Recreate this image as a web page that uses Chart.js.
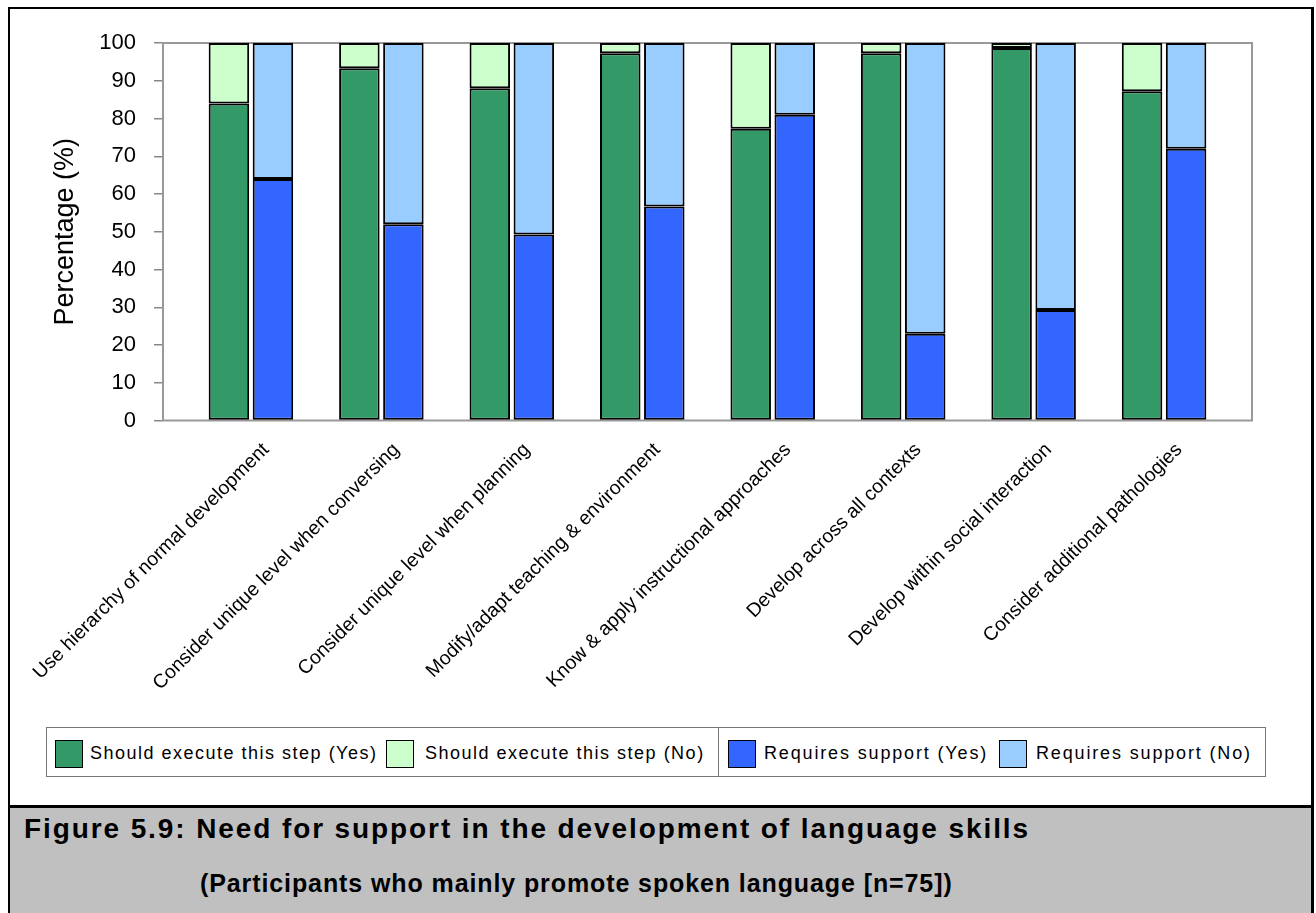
<!DOCTYPE html>
<html>
<head>
<meta charset="utf-8">
<script src="https://cdn.jsdelivr.net/npm/chart.js@4/dist/chart.umd.min.js"></script>
<style>
  html, body { margin: 0; padding: 0; background: #fff; }
  body { width: 1316px; height: 913px; position: relative; overflow: hidden; font-family: "Liberation Sans", Arial, sans-serif; }
  #frame { position: absolute; left: 8px; top: 7px; width: 1306px; height: 800px; box-sizing: border-box;
           border: 2px solid #000; border-right-width: 3px; }
  #chartWrap { position: absolute; left: 10px; top: 10px; width: 1300px; height: 705px; }
  #legend { position: absolute; left: 46px; top: 727px; width: 1220px; height: 50px; box-sizing: border-box;
            border: 1px solid #777; background: #fff; }
  #legend .sep { position: absolute; top: 0; bottom: 0; width: 1px; background: #777; }
  #legend .sw { position: absolute; top: 12px; width: 28px; height: 28px; box-sizing: border-box; border: 1.5px solid #000; }
  #legend .tx { position: absolute; top: 13px; font-size: 18px; line-height: 24px; letter-spacing: 1.5px; color: #000; white-space: nowrap; }
  #caption { position: absolute; left: 8px; top: 805px; width: 1306px; height: 120px; box-sizing: border-box;
             background: #c0c0c0; border: 2px solid #000; border-top-width: 3px; border-right-width: 3px; border-bottom: none; }
  #caption .l1 { position: absolute; left: 14px; top: 5px; font-weight: bold; font-size: 28px; letter-spacing: 1.9px; white-space: nowrap; color: #000; }
  #caption .l2 { position: absolute; left: 190px; top: 61px; font-weight: bold; font-size: 25px; letter-spacing: 0.9px; white-space: nowrap; color: #000; }
</style>
</head>
<body>
<div id="frame"></div>
<div id="chartWrap"><canvas id="chart" width="1300" height="705"></canvas></div>
<div id="legend"></div>
<div id="caption">
  <div class="l1">Figure 5.9: Need for support in the development of language skills</div>
  <div class="l2">(Participants who mainly promote spoken language [n=75])</div>
</div>
<script>
// Steps of language-skill development
const categories = [
  "Use hierarchy of normal development",
  "Consider unique level when conversing",
  "Consider unique level when planning",
  "Modify/adapt teaching & environment",
  "Know & apply instructional approaches",
  "Develop across all contexts",
  "Develop within social interaction",
  "Consider additional pathologies"
];

// Percentages (%) per step
const shouldExecuteYes = [84, 93.3, 88, 97.3, 77.3, 97.3, 98.7, 87.2];
const shouldExecuteNo  = [16, 6.7, 12, 2.7, 22.7, 2.7, 1.3, 12.8];
const requiresSupportYes = [64, 52, 49.3, 56.7, 81, 23, 29.3, 72];
const requiresSupportNo  = [36, 48, 50.7, 43.3, 19, 77, 70.7, 28];

const seriesNames = [
  "Should execute this step (Yes)",
  "Should execute this step (No)",
  "Requires support (Yes)",
  "Requires support (No)"
];
const seriesColors = ["#339966", "#ccffcc", "#3366ff", "#99ccff"];

const yTicks = [0, 10, 20, 30, 40, 50, 60, 70, 80, 90, 100];

const FONT = '"Liberation Sans", Arial, sans-serif';

function points(values) {
  return values.map((v, i) => ({ x: i, y: v }));
}

const seriesValues = [shouldExecuteYes, shouldExecuteNo, requiresSupportYes, requiresSupportNo];
const stacks = ["execute", "execute", "support", "support"];

const datasets = seriesValues.map((vals, k) => ({
  label: seriesNames[k],
  data: points(vals),
  stack: stacks[k],
  backgroundColor: seriesColors[k],
  borderColor: "#000",
  borderWidth: 2,
  borderSkipped: false,
  categoryPercentage: 0.675,
  barPercentage: 0.92
}));

// grey plot-area frame drawn under the bars
const plotFrame = {
  id: "plotFrame",
  beforeDatasetsDraw(chart) {
    const { ctx, chartArea: a } = chart;
    ctx.save();
    ctx.strokeStyle = "#999";
    ctx.lineWidth = 2;
    ctx.strokeRect(a.left, a.top, a.right - a.left, a.bottom - a.top);
    ctx.restore();
  }
};

new Chart(document.getElementById("chart"), {
  type: "bar",
  data: { datasets },
  plugins: [plotFrame],
  options: {
    responsive: false,
    animation: false,
    devicePixelRatio: 1,
    layout: { padding: { top: 33, right: 58, left: 0, bottom: 0 } },
    plugins: { legend: { display: false }, tooltip: { enabled: false } },
    scales: {
      x: {
        type: "linear",
        min: -0.674,
        max: 7.674,
        offset: false,
        grid: { display: false, offset: false },
        border: { display: false },
        afterFit(scale) {
          scale.height = 294.5;
          scale.paddingLeft = 0;
          scale.paddingRight = 0;
        },
        afterBuildTicks(scale) {
          scale.ticks = categories.map((c, i) => ({ value: i }));
        },
        ticks: {
          autoSkip: false,
          maxRotation: 45,
          minRotation: 45,
          padding: 10,
          labelOffset: 15,
          color: "#000",
          font: { family: FONT, size: 19.5 },
          callback: (v) => categories[v] ?? ""
        }
      },
      y: {
        stacked: true,
        min: 0,
        max: 100,
        afterFit(scale) {
          scale.width = 153;
          scale.paddingTop = 0;
          scale.paddingBottom = 0;
        },
        afterBuildTicks(scale) {
          scale.ticks = yTicks.map(v => ({ value: v }));
        },
        grid: { drawOnChartArea: false, drawTicks: true, tickLength: 9, color: "#888", lineWidth: 1.5 },
        border: { display: false },
        ticks: {
          padding: 18,
          color: "#000",
          font: { family: FONT, size: 22 }
        },
        title: {
          display: true,
          text: "Percentage (%)",
          color: "#000",
          font: { family: FONT, size: 27 },
          padding: { top: 39, bottom: 0 }
        }
      }
    }
  }
});

// legend boxes and labels
const legend = document.getElementById("legend");
const swatchX = [8, 339, 681, 952];
const textX = [43, 378, 717, 989];
const textSpacing = [1.5, 1.5, 1.85, 1.85];
seriesNames.forEach((name, k) => {
  const sw = document.createElement("div");
  sw.className = "sw";
  sw.style.left = swatchX[k] + "px";
  sw.style.background = seriesColors[k];
  legend.appendChild(sw);
  const tx = document.createElement("div");
  tx.className = "tx";
  tx.style.left = textX[k] + "px";
  tx.style.letterSpacing = textSpacing[k] + "px";
  tx.textContent = name;
  legend.appendChild(tx);
});
const sep = document.createElement("div");
sep.className = "sep";
sep.style.left = "671px";
legend.appendChild(sep);
</script>
</body>
</html>
